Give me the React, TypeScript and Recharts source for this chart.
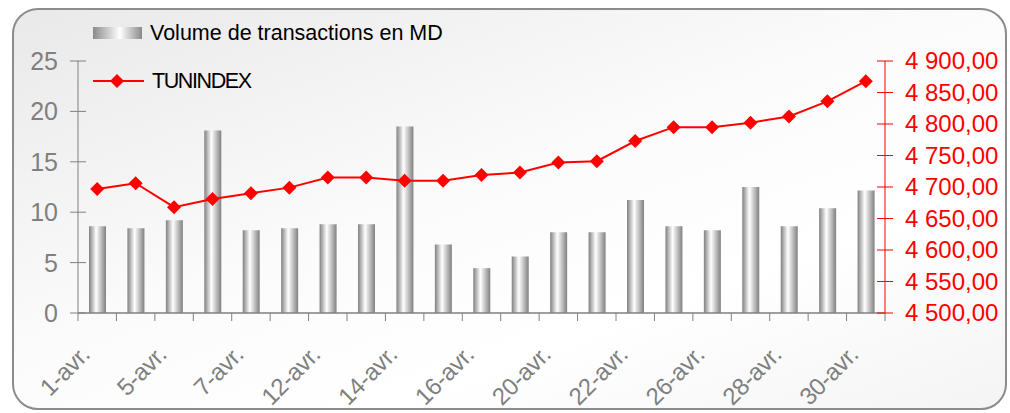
import { ComposedChart, Bar, Line, XAxis, YAxis } from "recharts";

const dates = [
  "1-avr.", "2-avr.", "5-avr.", "6-avr.", "7-avr.", "8-avr.", "12-avr.",
  "13-avr.", "14-avr.", "15-avr.", "16-avr.", "19-avr.", "20-avr.", "21-avr.",
  "22-avr.", "23-avr.", "26-avr.", "27-avr.", "28-avr.", "29-avr.", "30-avr.",
];
const volume = [
  8.6, 8.4, 9.2, 18.1, 8.2, 8.4, 8.8, 8.8, 18.5, 6.8, 4.45, 5.6, 8.0, 8.0,
  11.2, 8.6, 8.2, 12.5, 8.6, 10.4, 12.15,
];
const tunindex = [
  4697, 4706, 4668, 4681, 4690, 4699, 4715, 4715, 4710, 4710, 4719, 4723,
  4739, 4741, 4773, 4795, 4795, 4802, 4812, 4836, 4868,
];
const leftTicks = [0, 5, 10, 15, 20, 25];
const rightTicks = [4500, 4550, 4600, 4650, 4700, 4750, 4800, 4850, 4900];

const data = dates.map((d, i) => ({ date: d, volume: volume[i], tunindex: tunindex[i] }));

const FONT = "'Liberation Sans', Arial, sans-serif";
const GREY = "#808080";
const RED = "#ff0000";
const W = 1010;
const H = 413;
const PLOT_LEFT = 78;
const PLOT_RIGHT = 885;
const BAND = (PLOT_RIGHT - PLOT_LEFT) / dates.length;

function fmtFr(v: number) {
  const th = Math.floor(v / 1000);
  const rest = String(v % 1000).padStart(3, "0");
  return `${th} ${rest},00`;
}

function XTick(props: any) {
  const { x, y, index, payload } = props;
  const last = index === dates.length - 1;
  const tx = x - 6;
  const ty = y + 43;
  return (
    <g>
      <line x1={x - BAND / 2} x2={x - BAND / 2} y1={y} y2={y + 8} stroke={GREY} />
      {last && <line x1={x + BAND / 2} x2={x + BAND / 2} y1={y} y2={y + 8} stroke={GREY} />}
      {index % 2 === 0 && (
        <text
          x={tx}
          y={ty}
          transform={`rotate(-45, ${tx}, ${ty})`}
          textAnchor="end"
          fill={GREY}
          fontSize={24}
          fontFamily={FONT}
          letterSpacing={-0.3}
        >
          {payload.value}
        </text>
      )}
    </g>
  );
}

function LeftTick(props: any) {
  const { x, y, payload } = props;
  return (
    <g>
      <line x1={x - 8} x2={x + 8} y1={y} y2={y} stroke={GREY} />
      <text x={x - 20} y={y + 9} textAnchor="end" fill={GREY} fontSize={25} fontFamily={FONT}>
        {payload.value}
      </text>
    </g>
  );
}

function RightTick(props: any) {
  const { x, y, payload } = props;
  return (
    <g>
      <line x1={x - 8} x2={x + 8} y1={y} y2={y} stroke={RED} />
      <text x={x + 20} y={y + 8} textAnchor="start" fill={RED} fontSize={24} fontFamily={FONT}>
        {fmtFr(payload.value)}
      </text>
    </g>
  );
}

function Diamond(props: any) {
  const { cx, cy, index } = props;
  const r = 7;
  return (
    <polygon
      key={`d-${index}`}
      points={`${cx},${cy - r} ${cx + r},${cy} ${cx},${cy + r} ${cx - r},${cy}`}
      fill={RED}
    />
  );
}

function LegendBox() {
  return (
    <svg width={520} height={100} style={{ display: "block" }}>
      <defs>
        <linearGradient id="legGrad" x1="0" y1="0" x2="1" y2="0">
          <stop offset="0%" stopColor="#8a8a8a" />
          <stop offset="55%" stopColor="#ffffff" />
          <stop offset="100%" stopColor="#8a8a8a" />
        </linearGradient>
      </defs>
      <rect x={93} y={27} width={49} height={12} fill="url(#legGrad)" />
      <text x={150} y={40} fontSize={21.5} fontFamily={FONT} fill="#000" letterSpacing={0}>
        Volume de transactions en MD
      </text>
      <line x1={93} x2={144} y1={81} y2={81} stroke={RED} strokeWidth={2} />
      <polygon points="117,74 124,81 117,88 110,81" fill={RED} />
      <text x={152} y={88} fontSize={21.5} fontFamily={FONT} fill="#000" letterSpacing={-1.4}>
        TUNINDEX
      </text>
    </svg>
  );
}

export default function App() {
  return (
    <div style={{ position: "absolute", left: 0, top: 0, width: W, height: H }}>
      <div
        style={{
          position: "absolute",
          left: 12,
          top: 8,
          width: 991,
          height: 398,
          border: "2px solid #8c8c8c",
          borderRadius: 26,
          background: "linear-gradient(160deg, #e9e9e9 0%, #fbfbfb 45%, #ffffff 70%, #f4f4f4 100%)",
        }}
      />
      <div style={{ position: "absolute", left: 0, top: 0 }}>
        <ComposedChart
          width={W}
          height={H}
          data={data}
          margin={{ top: 61, right: 0, bottom: 20, left: 8 }}
        >
          <defs>
            <linearGradient id="barGrad" x1="0" y1="0" x2="1" y2="0">
              <stop offset="0%" stopColor="#808080" />
              <stop offset="42%" stopColor="#ffffff" />
              <stop offset="100%" stopColor="#808080" />
            </linearGradient>
          </defs>
          <XAxis
            dataKey="date"
            interval={0}
            height={80}
            tickSize={0}
            tickMargin={0}
            tickLine={false}
            axisLine={{ stroke: GREY, strokeWidth: 1.5 }}
            tick={<XTick />}
          />
          <YAxis
            yAxisId="left"
            orientation="left"
            width={70}
            domain={[0, 25]}
            ticks={leftTicks}
            tickSize={0}
            tickMargin={0}
            tickLine={false}
            axisLine={{ stroke: GREY }}
            tick={<LeftTick />}
          />
          <YAxis
            yAxisId="right"
            orientation="right"
            width={125}
            domain={[4500, 4900]}
            ticks={rightTicks}
            tickSize={0}
            tickMargin={0}
            tickLine={false}
            axisLine={{ stroke: RED }}
            tick={<RightTick />}
          />
          <Bar
            yAxisId="left"
            dataKey="volume"
            name="Volume de transactions en MD"
            barSize={17}
            fill="url(#barGrad)"
            isAnimationActive={false}
          />
          <Line
            yAxisId="right"
            dataKey="tunindex"
            name="TUNINDEX"
            stroke={RED}
            strokeWidth={2}
            dot={(p: any) => <Diamond {...p} />}
            activeDot={false}
            isAnimationActive={false}
          />
        </ComposedChart>
      </div>
      <div style={{ position: "absolute", left: 0, top: 0 }}>
        <LegendBox />
      </div>
    </div>
  );
}
